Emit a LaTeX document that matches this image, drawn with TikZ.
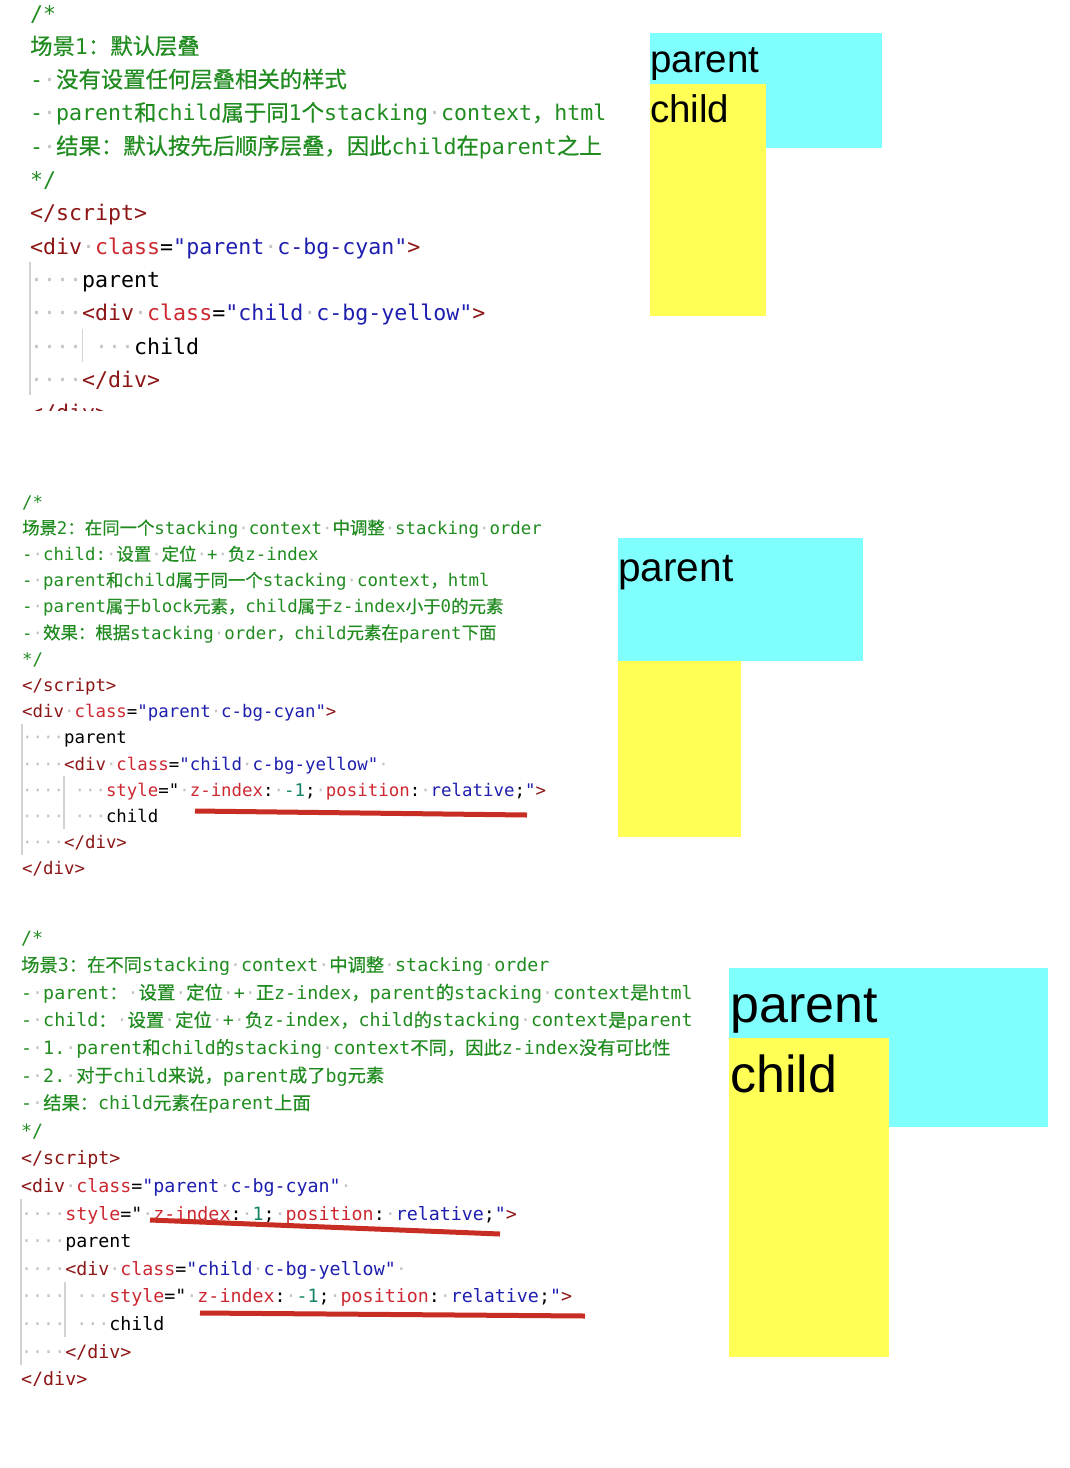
\documentclass[tikz,border=0pt]{standalone}
\usepackage{fontspec}
\setmonofont{DejaVu Sans Mono}
\newfontfamily\cjkA[Scale=1.035,FakeBold=0.5]{Noto Sans CJK SC}
\newfontfamily\cjkB[Scale=1.0,FakeBold=0.5]{Noto Sans CJK SC}
\let\cjkcur\cjkA
\newfontfamily\arialf{Liberation Sans}
\definecolor{cmgreen}{RGB}{32,140,32}
\definecolor{tagred}{RGB}{140,22,22}
\definecolor{attrred}{RGB}{205,40,50}
\definecolor{valblue}{RGB}{30,30,175}
\definecolor{numteal}{RGB}{20,130,100}
\definecolor{wsdot}{RGB}{195,195,195}
\definecolor{guide}{RGB}{210,210,210}
\definecolor{ulred}{RGB}{200,45,35}
\definecolor{boxcyan}{RGB}{128,255,255}
\definecolor{boxyellow}{RGB}{255,255,85}
\newcommand\ws{{\color{wsdot}·}}
\newcommand\sk{\phantom{x}}
\newcommand\zh[1]{{\cjkcur #1}}
\newcommand\Ktag[1]{\textcolor{tagred}{#1}}
\newcommand\Kattr[1]{\textcolor{attrred}{#1}}
\newcommand\Kval[1]{\textcolor{valblue}{#1}}
\newcommand\Knum[1]{\textcolor{numteal}{#1}}
\newcommand\Kstyle[1]{\Kattr{style}="\ws\Kattr{z-index}:\ws\Knum{#1};\ws\Kattr{position}:\ws\Kval{relative};\Kval{"}\Ktag{>}}
\tikzset{
  codeline/.style={anchor=base west, inner sep=0pt, text=black},
  cA/.style={codeline, font=\fontsize{21.6}{26}\ttfamily\let\cjkcur\cjkA},
  cB/.style={codeline, font=\fontsize{17.4}{21}\ttfamily\let\cjkcur\cjkB},
  cC/.style={codeline, font=\fontsize{18.3}{22}\ttfamily\let\cjkcur\cjkB},
  cmt/.style={text=cmgreen},
  guideline/.style={draw=guide, line width=1.2pt},
  uline/.style={draw=ulred, line width=5pt},
  cyanbox/.style={fill=boxcyan},
  yellowbox/.style={fill=boxyellow},
  boxtext/.style={anchor=base west, inner sep=0pt, text=black}
}
\begin{document}
\begin{tikzpicture}[x=1pt,y=-1pt]
\fill[white] (0,0) rectangle (1070,1468);
\useasboundingbox (0,0) rectangle (1070,1468);

% ---------------- Section 1 ----------------
\begin{scope}
\clip (0,0) rectangle (640,410);
\node[cA,cmt] (a0) at (30,21) {/*};
\node[cA,cmt] (a1) at (30,54.3) {\zh{场景}1\zh{：默认层叠}};
\node[cA,cmt] (a2) at (30,87.6) {-\ws\zh{没有设置任何层叠相关的样式}};
\node[cA,cmt] (a3) at (30,120.9) {-\ws parent\zh{和}child\zh{属于同}1\zh{个}stacking\ws context\zh{，}html};
\node[cA,cmt] (a4) at (30,154.2) {-\ws\zh{结果：默认按先后顺序层叠，因此}child\zh{在}parent\zh{之上}};
\node[cA,cmt] (a5) at (30,187.5) {*/};
\node[cA] (a6) at (30,220.8) {\Ktag{</script>}};
\node[cA] (a7) at (30,254.1) {\Ktag{<div}\ws\Kattr{class}=\Kval{"parent}\ws\Kval{c-bg-cyan"}\Ktag{>}};
\node[cA] (a8) at (30,287.4) {\ws\ws\ws\ws parent};
\node[cA] (a9) at (30,320.7) {\ws\ws\ws\ws\Ktag{<div}\ws\Kattr{class}=\Kval{"child}\ws\Kval{c-bg-yellow"}\Ktag{>}};
\node[cA] (a10) at (30,354) {\ws\ws\ws\ws\sk\ws\ws\ws child};
\node[cA] (a11) at (30,387.3) {\ws\ws\ws\ws\Ktag{</div>}};
\node[cA] (a12) at (30,420.6) {\Ktag{</div>}};
\end{scope}
\draw[guideline] (30,262) -- (30,395);
\draw[guideline] (82.5,329) -- (82.5,362);

\fill[cyanbox] (650,33) rectangle (882,148);
\fill[yellowbox] (650,84) rectangle (766,316);
\node[boxtext, font=\arialf\fontsize{38.5}{40}\selectfont] (p1) at (650,72) {parent};
\node[boxtext, font=\arialf\fontsize{38.5}{40}\selectfont] (ch1) at (650,122) {child};

% ---------------- Section 2 ----------------
\node[cB,cmt] (b0) at (22,508) {/*};
\node[cB,cmt] (b1) at (22,534.2) {\zh{场景}2\zh{：在同一个}stacking\ws context\ws\zh{中调整}\ws stacking\ws order};
\node[cB,cmt] (b2) at (22,560.4) {-\ws child:\ws\zh{设置}\ws\zh{定位}\ws+\ws\zh{负}z-index};
\node[cB,cmt] (b3) at (22,586.6) {-\ws parent\zh{和}child\zh{属于同一个}stacking\ws context\zh{，}html};
\node[cB,cmt] (b4) at (22,612.8) {-\ws parent\zh{属于}block\zh{元素，}child\zh{属于}z-index\zh{小于}0\zh{的元素}};
\node[cB,cmt] (b5) at (22,639) {-\ws\zh{效果：根据}stacking\ws order\zh{，}child\zh{元素在}parent\zh{下面}};
\node[cB,cmt] (b6) at (22,665.2) {*/};
\node[cB] (b7) at (22,691.4) {\Ktag{</script>}};
\node[cB] (b8) at (22,717.6) {\Ktag{<div}\ws\Kattr{class}=\Kval{"parent}\ws\Kval{c-bg-cyan"}\Ktag{>}};
\node[cB] (b9) at (22,743.8) {\ws\ws\ws\ws parent};
\node[cB] (b10) at (22,770) {\ws\ws\ws\ws\Ktag{<div}\ws\Kattr{class}=\Kval{"child}\ws\Kval{c-bg-yellow"}\ws};
\node[cB] (b11) at (22,796.2) {\ws\ws\ws\ws\sk\ws\ws\ws\Kstyle{-1}};
\node[cB] (b12) at (22,822.4) {\ws\ws\ws\ws\sk\ws\ws\ws child};
\node[cB] (b13) at (22,848.6) {\ws\ws\ws\ws\Ktag{</div>}};
\node[cB] (b14) at (22,874.8) {\Ktag{</div>}};
\draw[guideline] (22,724) -- (22,855);
\draw[guideline] (64,776) -- (64,829);
\draw[uline] (195,811) -- (527,815);

\fill[yellowbox] (618,660) rectangle (741,837);
\fill[cyanbox] (618,538) rectangle (863,661);
\node[boxtext, font=\arialf\fontsize{40.6}{42}\selectfont] (p2) at (618,581) {parent};

% ---------------- Section 3 ----------------
\begin{scope}
\clip (0,900) rectangle (720,1385);
\node[cC,cmt] (c0) at (21,944) {/*};
\node[cC,cmt] (c1) at (21,971.6) {\zh{场景}3\zh{：在不同}stacking\ws context\ws\zh{中调整}\ws stacking\ws order};
\node[cC,cmt] (c2) at (21,999.2) {-\ws parent\zh{：}\ws\zh{设置}\ws\zh{定位}\ws+\ws\zh{正}z-index\zh{，}parent\zh{的}stacking\ws context\zh{是}html};
\node[cC,cmt] (c3) at (21,1026.8) {-\ws child\zh{：}\ws\zh{设置}\ws\zh{定位}\ws+\ws\zh{负}z-index\zh{，}child\zh{的}stacking\ws context\zh{是}parent};
\node[cC,cmt] (c4) at (21,1054.4) {-\ws 1.\ws parent\zh{和}child\zh{的}stacking\ws context\zh{不同，因此}z-index\zh{没有可比性}};
\node[cC,cmt] (c5) at (21,1082) {-\ws 2.\ws\zh{对于}child\zh{来说，}parent\zh{成了}bg\zh{元素}};
\node[cC,cmt] (c6) at (21,1109.6) {-\ws\zh{结果：}child\zh{元素在}parent\zh{上面}};
\node[cC,cmt] (c7) at (21,1137.2) {*/};
\node[cC] (c8) at (21,1164.8) {\Ktag{</script>}};
\node[cC] (c9) at (21,1192.4) {\Ktag{<div}\ws\Kattr{class}=\Kval{"parent}\ws\Kval{c-bg-cyan"}\ws};
\node[cC] (c10) at (21,1220) {\ws\ws\ws\ws\Kstyle{1}};
\node[cC] (c11) at (21,1247.6) {\ws\ws\ws\ws parent};
\node[cC] (c12) at (21,1275.2) {\ws\ws\ws\ws\Ktag{<div}\ws\Kattr{class}=\Kval{"child}\ws\Kval{c-bg-yellow"}\ws};
\node[cC] (c13) at (21,1302.8) {\ws\ws\ws\ws\sk\ws\ws\ws\Kstyle{-1}};
\node[cC] (c14) at (21,1330.4) {\ws\ws\ws\ws\sk\ws\ws\ws child};
\node[cC] (c15) at (21,1358) {\ws\ws\ws\ws\Ktag{</div>}};
\node[cC] (c16) at (21,1385.6) {\Ktag{</div>}};
\end{scope}
\draw[guideline] (21,1199) -- (21,1365);
\draw[guideline] (65,1282) -- (65,1337);
\draw[uline] (150,1220) -- (500,1234);
\draw[uline] (200,1313) -- (585,1316);

\fill[cyanbox] (729,968) rectangle (1048,1127);
\fill[yellowbox] (729,1038) rectangle (889,1357);
\node[boxtext, font=\arialf\fontsize{52}{54}\selectfont] (p3) at (730,1022) {parent};
\node[boxtext, font=\arialf\fontsize{52}{54}\selectfont] (ch3) at (730,1092) {child};
\end{tikzpicture}
\end{document}
